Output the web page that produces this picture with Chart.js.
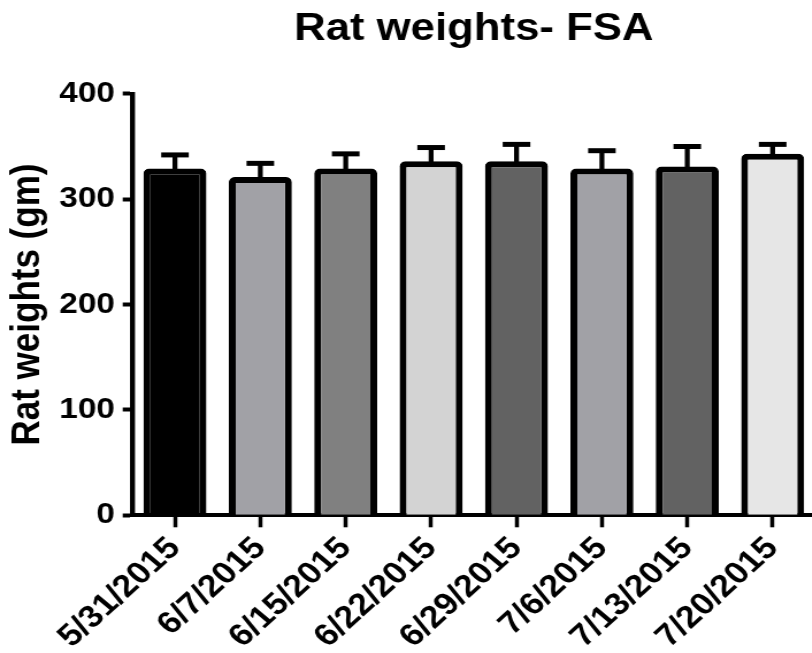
<!DOCTYPE html>
<html><head><meta charset="utf-8">
<script src="https://cdn.jsdelivr.net/npm/chart.js@4/dist/chart.umd.min.js"></script>
<style>
html,body{margin:0;padding:0;background:#fff;overflow:hidden;width:812px;height:653px;}
#wrap{position:absolute;left:0;top:0;width:712px;height:653px;transform:scaleX(1.15);transform-origin:0 0;}
</style></head><body>
<div id="wrap"><canvas id="c"></canvas></div>
<script>
const categories = ['5/31/2015','6/7/2015','6/15/2015','6/22/2015','6/29/2015','7/6/2015','7/13/2015','7/20/2015'];
const meanWeights = [329, 321, 329, 336, 336, 329, 331, 343];
const sdWeights = [13, 13, 14, 13, 16, 17, 19, 9];
const barColors = ['#000000','#a1a1a6','#808080','#d3d3d3','#626262','#a1a1a6','#626262','#e6e6e6'];
const yTicks = [0, 100, 200, 300, 400];
const chartTitle = 'Rat weights- FSA';
const yTitle = 'Rat weights (gm)';

const FONT = '"Liberation Sans", Arial, Helvetica, sans-serif';

const errorBars = {
  id: 'errorBars',
  afterDatasetsDraw(chart) {
    const meta = chart.getDatasetMeta(0);
    const yScale = chart.scales.y;
    const ctx = chart.ctx;
    ctx.save();
    ctx.strokeStyle = '#000';
    ctx.lineCap = 'butt';
    meta.data.forEach((bar, i) => {
      const top = yScale.getPixelForValue(meanWeights[i] + sdWeights[i]);
      ctx.lineWidth = 4.3;
      ctx.beginPath();
      ctx.moveTo(bar.x, bar.y + 2);
      ctx.lineTo(bar.x, top);
      ctx.stroke();
      ctx.lineWidth = 5;
      ctx.beginPath();
      ctx.moveTo(bar.x - 12, top);
      ctx.lineTo(bar.x + 12, top);
      ctx.stroke();
    });
    ctx.restore();
  }
};

new Chart(document.getElementById('c'), {
  type: 'bar',
  data: {
    labels: categories,
    datasets: [{
      data: meanWeights,
      backgroundColor: barColors,
      borderColor: '#000',
      borderWidth: 6,
      borderRadius: {topLeft: 5, topRight: 5, bottomLeft: 0, bottomRight: 0},
      borderSkipped: 'start',
      categoryPercentage: 1,
      barPercentage: 0.738
    }]
  },
  options: {
    responsive: true,
    maintainAspectRatio: false,
    animation: false,
    devicePixelRatio: 1,
    layout: {padding: {left: 0, right: 3, top: 0, bottom: 0}},
    plugins: {
      legend: {display: false},
      tooltip: {enabled: false},
      title: {
        display: true,
        text: chartTitle,
        fullSize: false,
        color: '#000',
        font: {family: FONT, size: 38, weight: 'bold', lineHeight: 1.2},
        padding: {top: 7, bottom: 41.2}
      }
    },
    scales: {
      x: {
        type: 'category',
        offset: true,
        afterFit: (s) => { s.height = 653 - 515.3; },
        grid: {display: true, drawOnChartArea: false, offset: false, drawTicks: true,
               tickLength: 12, tickWidth: 3.5, tickColor: '#000'},
        border: {display: true, color: '#000', width: 4},
        ticks: {color: '#000', font: {family: FONT, size: 31, weight: 'bold'},
                maxRotation: 46, minRotation: 46, autoSkip: false, padding: 3}
      },
      y: {
        min: 0, max: 400,
        afterFit: (s) => { s.width = 115; },
        afterBuildTicks: (s) => { s.ticks = yTicks.map(v => ({value: v})); },
        grid: {display: true, drawOnChartArea: false, drawTicks: true,
               tickLength: 8.3, tickWidth: 4, tickColor: '#000'},
        border: {display: true, color: '#000', width: 4.4},
        ticks: {color: '#000', font: {family: FONT, size: 29, weight: 'bold'}, padding: 6.7},
        title: {display: true, text: yTitle, color: '#000',
                font: {family: FONT, size: 35, weight: 'bold', lineHeight: 1.2},
                padding: {top: 3, bottom: 0}}
      }
    }
  },
  plugins: [errorBars]
});
</script>
</body></html>
